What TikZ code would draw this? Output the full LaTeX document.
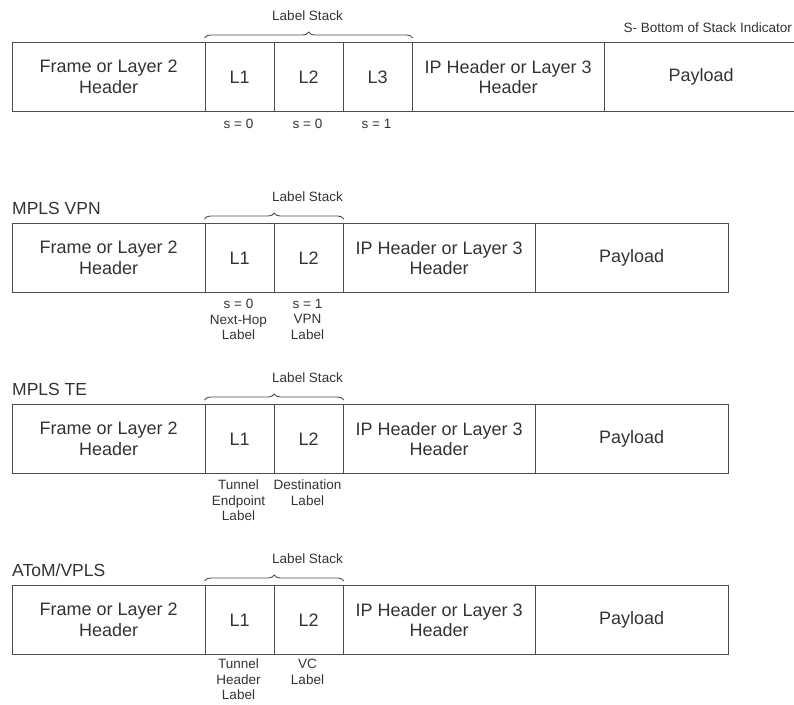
\documentclass[tikz,border=0pt]{standalone}
\usepackage{fontspec}
\setmainfont{Liberation Sans}
\usetikzlibrary{decorations.pathreplacing}
\definecolor{ink}{HTML}{333333}
\definecolor{rule}{HTML}{4D4D4D}

\begin{document}
\begin{tikzpicture}[x=1pt,y=-1pt,
  cell/.style={draw=rule, line width=1.3pt, inner sep=0pt, anchor=north west,
    align=center, text=ink, minimum width=#1, minimum height=68.5pt,
    font=\fontsize{18}{20.5}\selectfont},
  note/.style={text=ink, align=center, inner sep=0pt,
    font=\fontsize{13.5}{15.5}\selectfont},
  title/.style={text=ink, anchor=base west, inner sep=0pt,
    font=\fontsize{17.5}{19}\selectfont},
  stackbrace/.style={draw=rule, line width=0.9pt,
    decorate, decoration={brace, amplitude=6pt}},
]
\useasboundingbox (0,0) rectangle (794,704);

% ---- generic label stack: three labels ----
\node[cell=193pt] (f1) at (11.5,42) {Frame or Layer 2\\Header};
\node[cell=69pt]  (a1) at (204.5,42) {L1};
\node[cell=69pt]  (b1) at (273.5,42) {L2};
\node[cell=69pt]  (c1) at (342.5,42) {L3};
\node[cell=192pt] (i1) at (411.5,42) {IP Header or Layer 3\\Header};
\node[cell=194pt] (p1) at (603.5,42) {Payload};
\draw[stackbrace] ([yshift=4pt]a1.north west) -- ([yshift=4pt]c1.north east);
\node[note] (ls1) at (307.5,16) {Label Stack};
\node[note, anchor=base east] (bos) at (792,32) {S- Bottom of Stack Indicator};
\node[note] (s1a) at (238.5,124) {s = 0};
\node[note] (s1b) at (307.5,124) {s = 0};
\node[note] (s1c) at (376.5,124) {s = 1};

% ---- MPLS VPN ----
\node[title] (t2) at (12,214) {MPLS VPN};
\node[cell=193pt] (f2) at (11.5,223) {Frame or Layer 2\\Header};
\node[cell=69pt]  (a2) at (204.5,223) {L1};
\node[cell=69pt]  (b2) at (273.5,223) {L2};
\node[cell=192pt] (i2) at (342.5,223) {IP Header or Layer 3\\Header};
\node[cell=193pt] (p2) at (534.5,223) {Payload};
\draw[stackbrace] ([yshift=4pt]a2.north west) -- ([yshift=4pt]b2.north east);
\node[note] (ls2) at (307.5,197) {Label Stack};
\node[note, anchor=north] (n2a) at (238.5,299) {s = 0\\Next-Hop\\Label};
\node[note, anchor=north] (n2b) at (307.5,299) {s = 1\\VPN\\Label};

% ---- MPLS TE ----
\node[title] (t3) at (12,395) {MPLS TE};
\node[cell=193pt] (f3) at (11.5,404) {Frame or Layer 2\\Header};
\node[cell=69pt]  (a3) at (204.5,404) {L1};
\node[cell=69pt]  (b3) at (273.5,404) {L2};
\node[cell=192pt] (i3) at (342.5,404) {IP Header or Layer 3\\Header};
\node[cell=193pt] (p3) at (534.5,404) {Payload};
\draw[stackbrace] ([yshift=4pt]a3.north west) -- ([yshift=4pt]b3.north east);
\node[note] (ls3) at (307.5,378) {Label Stack};
\node[note, anchor=north] (n3a) at (238.5,480) {Tunnel\\Endpoint\\Label};
\node[note, anchor=north] (n3b) at (307.5,480) {Destination\\Label};

% ---- AToM/VPLS ----
\node[title] (t4) at (12,576) {AToM/VPLS};
\node[cell=193pt] (f4) at (11.5,585) {Frame or Layer 2\\Header};
\node[cell=69pt]  (a4) at (204.5,585) {L1};
\node[cell=69pt]  (b4) at (273.5,585) {L2};
\node[cell=192pt] (i4) at (342.5,585) {IP Header or Layer 3\\Header};
\node[cell=193pt] (p4) at (534.5,585) {Payload};
\draw[stackbrace] ([yshift=4pt]a4.north west) -- ([yshift=4pt]b4.north east);
\node[note] (ls4) at (307.5,559) {Label Stack};
\node[note, anchor=north] (n4a) at (238.5,659) {Tunnel\\Header\\Label};
\node[note, anchor=north] (n4b) at (307.5,659) {VC\\Label};
\end{tikzpicture}
\end{document}
